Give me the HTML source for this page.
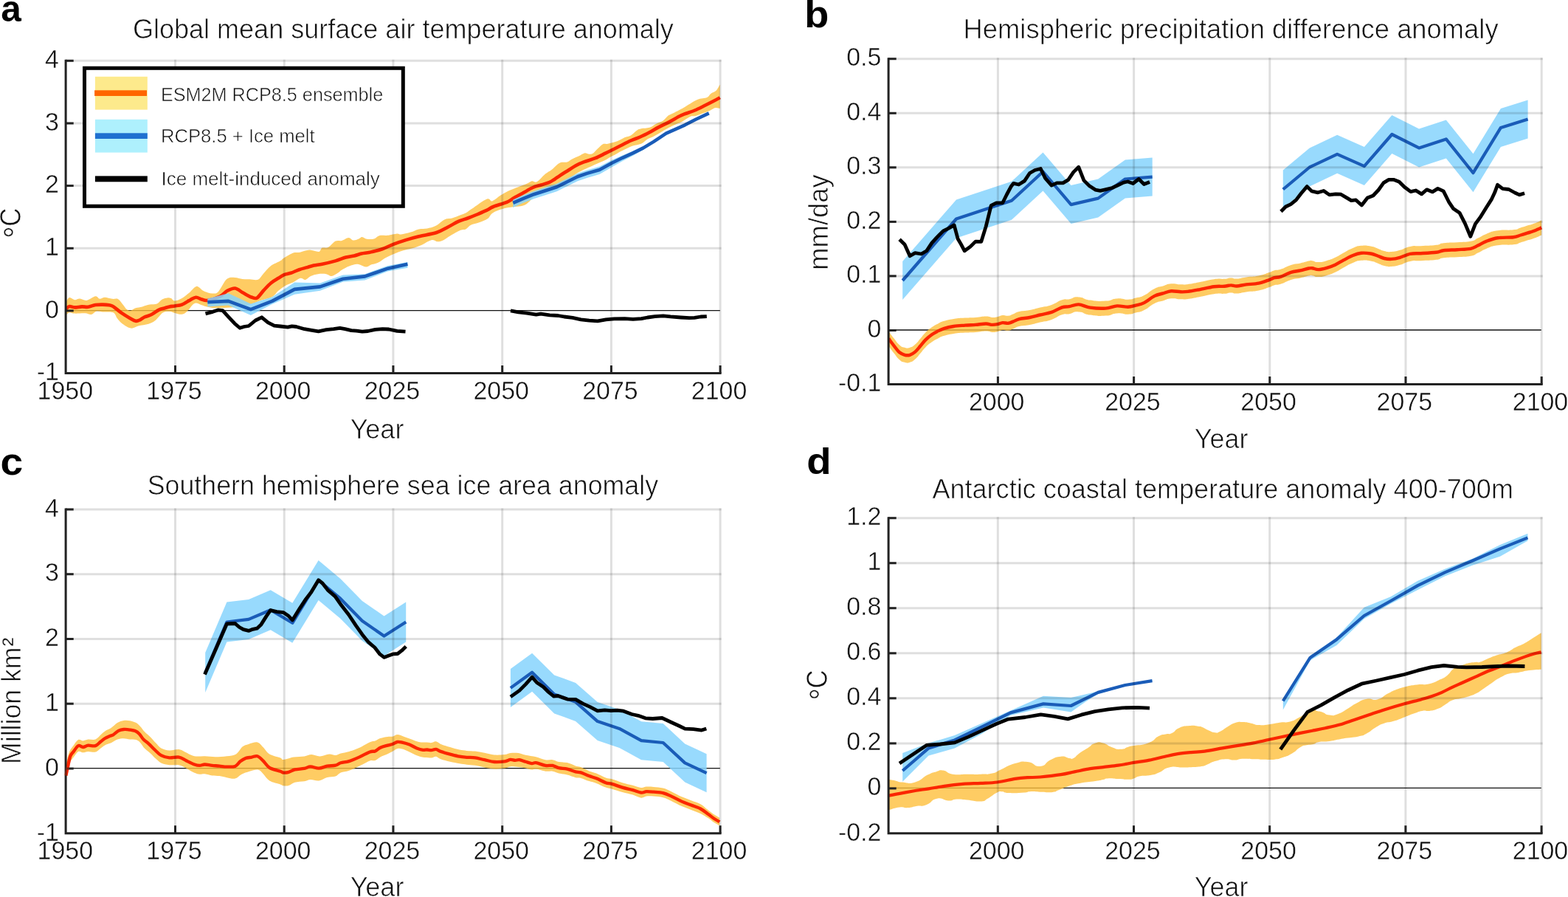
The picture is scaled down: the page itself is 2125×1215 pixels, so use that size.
<!DOCTYPE html>
<html lang="en"><head><meta charset="utf-8"><title>Figure</title>
<style>
html,body{margin:0;padding:0;background:#fff;}
body{width:2125px;height:1215px;overflow:hidden;}
svg{display:block;font-family:"Liberation Sans",sans-serif;}
</style></head><body>
<svg width="2125" height="1215" viewBox="0 0 2125 1215">
<rect width="2125" height="1215" fill="#fff"/>
<g id="panel-a">
<clipPath id="clipa"><rect x="88.0" y="80.0" width="889.3" height="427.3"/></clipPath>
<line x1="89.5" y1="420.6" x2="975.8" y2="420.6" stroke="#111" stroke-width="1.3"/>
<path d="M89.5,409.1C90.3,408.1 92.1,403.6 94.1,403.1C96.0,402.6 98.8,406.0 101.2,406.2C103.6,406.4 105.5,404.4 108.2,404.5C110.9,404.6 113.9,407.4 117.4,406.9C120.9,406.4 126.5,401.6 129.4,401.3C132.3,401.0 133.0,404.6 135.1,404.8C137.2,405.0 139.3,402.7 142.1,402.7C144.9,402.7 149.1,404.4 152.0,404.8C154.9,405.2 157.5,403.9 159.8,405.1C162.2,406.3 164.1,409.6 166.1,411.9C168.1,414.2 169.9,417.5 171.8,418.9C173.7,420.3 175.4,420.7 177.4,420.4C179.4,420.1 181.2,418.0 183.8,417.2C186.4,416.4 189.7,416.2 192.9,415.4C196.1,414.6 199.5,413.2 202.8,412.6C206.1,412.0 209.9,412.8 212.7,411.6C215.5,410.4 217.5,406.9 219.8,405.5C222.2,404.1 224.8,403.6 226.8,403.4C228.8,403.2 230.2,403.4 231.8,404.1C233.5,404.8 234.2,407.6 236.7,407.6C239.2,407.6 243.3,406.0 246.6,404.1C249.9,402.2 253.2,399.1 256.5,396.4C259.8,393.7 263.1,388.4 266.1,387.9C269.2,387.4 272.2,392.1 274.8,393.5C277.4,394.9 279.5,395.7 281.9,396.4C284.2,397.1 286.5,397.8 288.9,397.5C291.2,397.2 292.9,398.1 296.0,394.9C299.1,391.6 303.5,381.2 307.3,378.0C311.1,374.8 315.1,375.9 318.6,375.9C322.1,375.9 325.2,377.6 328.5,378.0C331.8,378.4 334.9,378.2 338.4,378.3C341.9,378.4 346.6,379.9 349.6,378.7C352.7,377.5 353.9,373.9 356.7,370.9C359.5,367.8 362.7,363.3 366.6,360.4C370.5,357.5 377.1,355.1 380.0,353.3C382.9,351.6 381.3,351.6 384.1,349.9C386.9,348.1 393.0,344.2 396.8,342.8C400.6,341.4 402.9,342.4 406.7,341.7C410.5,341.0 415.2,338.7 419.4,338.6C423.6,338.5 429.3,341.5 432.1,341.0C434.9,340.5 434.3,336.8 436.4,335.8C438.5,334.8 441.8,336.6 444.8,335.1C447.9,333.6 451.6,328.1 454.7,326.6C457.8,325.1 460.2,326.7 463.2,325.9C466.1,325.1 469.8,322.0 472.4,321.9C475.0,321.8 476.5,325.2 478.7,325.5C480.9,325.8 483.8,324.6 485.8,323.8C487.8,323.0 488.8,320.9 490.7,320.9C492.6,320.9 494.4,323.4 497.1,323.8C499.8,324.2 504.1,324.3 506.9,323.5C509.7,322.7 510.9,320.0 514.0,319.2C517.1,318.4 521.3,319.3 525.3,318.8C529.3,318.3 535.0,316.6 538.0,316.4C541.0,316.2 540.5,317.7 543.6,317.4C546.7,317.1 552.4,315.8 556.4,314.6C560.4,313.4 563.9,311.3 567.6,310.4C571.4,309.5 575.1,310.1 578.9,309.4C582.7,308.7 586.2,308.1 590.2,306.1C594.2,304.1 599.1,299.0 602.9,297.2C606.7,295.4 609.3,296.5 612.8,295.5C616.3,294.5 621.0,292.5 624.1,291.3C627.2,290.1 628.6,289.9 631.2,288.5C633.8,287.1 634.8,286.0 639.6,282.8C644.4,279.6 655.4,271.2 660.0,269.5C664.6,267.8 664.0,273.2 667.1,272.4C670.2,271.6 674.9,266.9 678.4,264.6C681.9,262.4 684.2,260.8 688.2,258.9C692.2,257.0 698.2,254.9 702.4,253.3C706.6,251.7 710.5,250.4 713.6,249.1C716.7,247.8 718.3,245.7 720.7,245.2C723.1,244.7 724.7,247.8 727.8,246.2C730.9,244.6 735.8,238.3 739.1,235.6C742.4,232.9 744.7,232.2 747.5,230.0C750.3,227.8 753.6,223.9 756.0,222.2C758.4,220.5 759.5,220.3 761.6,219.8C763.7,219.3 766.3,220.2 768.7,219.4C771.1,218.6 773.2,216.5 775.8,215.2C778.4,213.9 781.5,212.9 784.2,211.6C786.9,210.3 789.6,207.9 792.0,207.4C794.4,206.9 796.4,208.8 798.4,208.8C800.4,208.8 802.1,208.6 804.0,207.4C805.9,206.2 807.5,203.8 809.6,201.8C811.7,199.8 814.3,196.6 816.7,195.4C819.1,194.2 820.5,195.4 823.8,194.7C827.1,194.0 832.7,192.6 836.5,191.2C840.3,189.8 843.4,187.5 846.4,186.2C849.4,184.9 852.0,185.0 854.8,183.4C857.6,181.8 860.9,177.9 863.3,176.4C865.6,174.9 866.1,174.8 868.9,174.2C871.7,173.6 876.9,173.9 880.2,172.8C883.5,171.8 885.6,169.4 888.7,167.9C891.8,166.4 895.8,165.5 898.6,163.6C901.4,161.7 903.0,158.5 905.6,156.6C908.2,154.7 911.3,153.8 914.1,152.4C916.9,151.0 919.1,150.1 922.6,148.1C926.1,146.1 931.5,142.6 935.3,140.4C939.1,138.2 941.8,136.1 945.6,134.7C949.4,133.3 955.2,133.4 958.1,132.1C961.0,130.8 961.1,128.5 963.2,126.9C965.3,125.4 968.4,124.9 970.5,122.8C972.6,120.7 974.8,115.9 975.7,114.5L975.7,147.1C974.7,146.9 971.8,145.7 969.5,146.1C967.2,146.5 965.3,148.4 962.2,149.7C959.1,151.0 954.1,152.7 950.8,153.9C947.5,155.1 945.1,156.3 942.5,157.0C939.9,157.7 938.4,156.7 935.3,158.0C932.2,159.3 927.5,163.2 924.0,165.1C920.5,167.0 918.1,167.4 914.1,169.3C910.1,171.2 904.7,173.8 900.0,176.4C895.3,179.0 889.7,182.8 885.9,184.8C882.1,186.8 880.2,186.8 877.4,188.4C874.6,190.1 872.2,193.2 868.9,194.7C865.6,196.2 861.8,196.0 857.6,197.5C853.4,199.0 848.2,201.6 843.5,203.9C838.8,206.2 833.4,209.4 829.4,211.6C825.4,213.8 822.8,215.7 819.5,217.3C816.2,219.0 813.8,219.6 809.6,221.5C805.4,223.4 798.8,226.4 794.1,228.6C789.4,230.8 784.9,232.8 781.4,234.9C777.9,237.0 776.7,238.9 772.9,241.3C769.1,243.7 763.5,246.8 758.8,249.1C754.1,251.4 749.9,253.2 744.7,255.4C739.5,257.6 732.5,259.4 727.8,262.5C723.1,265.6 719.8,271.1 716.5,273.8C713.2,276.5 713.0,277.4 708.0,278.7C703.0,280.0 693.4,280.0 686.8,281.5C680.2,283.0 672.8,285.4 668.5,287.9C664.2,290.3 664.0,294.0 660.8,296.2C657.6,298.4 653.3,299.8 649.5,301.2C645.7,302.6 641.2,303.2 638.2,304.7C635.2,306.2 633.6,309.2 631.2,310.4C628.9,311.6 627.6,310.3 624.1,311.8C620.6,313.3 613.8,317.3 610.0,319.5C606.2,321.7 604.3,323.6 601.5,324.9C598.7,326.2 595.9,327.2 593.1,327.3C590.3,327.4 588.4,324.4 584.6,325.2C580.8,326.0 575.0,330.3 570.5,332.2C566.0,334.1 561.8,335.3 557.8,336.5C553.8,337.7 550.6,338.0 546.5,339.3C542.4,340.6 537.1,342.6 533.1,344.2C529.1,345.8 525.9,347.3 522.5,349.2C519.1,351.1 516.1,354.1 512.8,355.6C509.5,357.2 505.7,357.5 502.9,358.5C500.1,359.5 498.9,361.7 495.9,361.6C492.8,361.5 488.4,358.0 484.6,357.8C480.8,357.6 476.8,359.3 473.3,360.6C469.8,361.9 466.0,364.0 463.4,365.5C460.8,367.0 460.1,368.4 457.8,369.8C455.5,371.2 451.9,373.8 449.3,374.0C446.7,374.2 445.3,371.7 442.2,371.2C439.1,370.7 434.4,370.7 430.9,371.2C427.4,371.7 423.9,372.7 421.1,374.0C418.3,375.3 416.4,378.4 414.0,378.9C411.6,379.4 409.7,376.2 406.9,376.8C404.1,377.4 400.4,380.9 397.1,382.5C393.8,384.1 390.5,384.8 387.2,386.7C383.9,388.6 380.4,391.2 377.3,393.8C374.2,396.4 372.6,400.1 368.8,402.2C365.0,404.3 359.4,404.9 354.7,406.5C350.0,408.1 345.3,410.7 340.6,412.1C335.9,413.5 331.2,414.2 326.5,414.9C321.8,415.6 318.3,416.0 312.4,416.4C306.5,416.8 296.5,417.3 291.2,417.1C285.9,416.9 283.5,416.0 280.5,415.4C277.5,414.8 275.9,414.1 273.4,413.3C270.9,412.5 267.7,410.5 265.6,410.5C263.5,410.5 262.7,411.4 260.7,413.3C258.7,415.2 255.9,419.7 253.6,421.8C251.2,423.9 249.4,425.4 246.6,425.7C243.8,426.0 239.5,424.5 236.7,423.9C233.9,423.2 232.2,421.9 229.6,421.8C227.0,421.7 223.5,422.0 221.2,423.2C218.8,424.4 217.4,426.9 215.5,428.8C213.6,430.7 212.2,432.9 209.9,434.5C207.6,436.1 205.2,437.5 201.4,438.7C197.6,439.9 191.3,440.5 187.3,441.5C183.3,442.5 180.9,445.1 177.4,444.6C173.9,444.1 169.2,440.9 166.1,438.7C163.0,436.5 161.2,434.2 159.1,431.6C157.0,429.0 156.7,424.7 153.4,423.2C150.1,421.7 143.1,422.8 139.3,422.5C135.5,422.2 133.4,420.9 130.8,421.5C128.2,422.1 126.4,425.5 123.8,426.0C121.2,426.5 119.1,424.5 115.3,424.3C111.5,424.1 104.7,424.8 101.2,424.6C97.7,424.4 96.0,422.9 94.1,423.2C92.1,423.5 90.3,426.1 89.5,426.7Z" fill="#febf3c" fill-opacity="0.8" clip-path="url(#clipa)"/>
<path d="M89.5,418.2C90.3,417.7 92.1,415.4 94.1,415.1C96.0,414.8 98.4,416.3 101.2,416.4C104.0,416.4 108.0,415.5 111.1,415.4C114.1,415.3 116.5,416.2 119.5,415.8C122.5,415.4 126.1,413.5 129.4,413.0C132.7,412.5 136.2,412.6 139.3,412.6C142.4,412.7 145.5,412.9 147.8,413.3C150.2,413.7 150.6,413.3 153.4,415.1C156.2,416.9 160.9,421.3 164.7,423.9C168.5,426.5 172.8,429.1 176.0,430.9C179.2,432.7 181.5,434.4 183.8,434.8C186.2,435.2 188.1,434.0 190.1,433.1C192.1,432.2 193.9,430.4 195.8,429.5C197.7,428.6 199.5,428.5 201.4,427.7C203.3,426.9 204.8,426.2 207.1,424.9C209.4,423.5 212.9,420.8 215.5,419.6C218.1,418.4 220.2,418.2 222.6,417.5C224.9,416.8 227.2,415.9 229.6,415.4C231.9,414.9 233.9,414.9 236.7,414.4C239.5,413.9 243.1,414.0 246.6,412.6C250.1,411.2 254.7,407.9 257.9,406.2C261.1,404.5 263.0,402.8 265.6,402.7C268.2,402.6 270.8,404.8 273.4,405.5C276.0,406.2 277.1,407.6 281.2,406.9C285.3,406.2 293.7,403.7 298.2,401.5C302.7,399.3 304.7,395.6 308.1,393.8C311.5,392.0 315.2,390.0 318.7,390.5C322.2,391.0 325.6,394.6 329.3,396.6C333.0,398.6 337.4,401.4 340.6,402.5C343.8,403.6 345.6,405.0 348.4,403.4C351.2,401.8 354.3,396.5 357.5,393.1C360.7,389.7 364.1,385.9 367.4,383.2C370.7,380.5 374.4,378.6 377.3,376.8C380.2,375.0 381.8,373.5 384.6,372.3C387.4,371.1 390.7,371.0 394.2,369.8C397.7,368.6 402.0,366.4 405.5,365.2C409.0,364.0 412.1,363.3 415.4,362.4C418.7,361.5 421.8,360.4 425.3,359.6C428.8,358.8 431.7,358.8 436.6,357.8C441.5,356.8 449.3,354.9 454.7,353.4C460.1,351.8 464.6,349.7 468.8,348.5C473.0,347.3 476.6,347.2 480.1,346.4C483.6,345.6 486.5,344.3 490.0,343.5C493.5,342.7 496.6,342.8 501.3,341.7C506.0,340.6 512.9,339.0 518.2,337.2C523.5,335.4 527.7,332.9 533.1,330.8C538.5,328.8 545.0,326.7 550.7,324.9C556.5,323.1 560.8,321.8 567.6,320.2C574.4,318.6 585.0,317.1 591.6,315.0C598.2,312.9 602.2,310.0 607.2,307.5C612.2,305.0 616.8,301.8 621.3,299.8C625.8,297.8 630.0,297.0 634.0,295.5C638.0,294.0 641.1,292.8 645.3,291.0C649.5,289.2 655.5,286.7 659.4,284.9C663.3,283.1 663.9,281.9 668.5,280.0C673.1,278.1 682.1,275.8 686.8,273.8C691.5,271.8 692.9,270.2 696.7,268.1C700.5,266.0 705.2,263.5 709.4,261.1C713.6,258.8 718.1,255.8 722.1,254.0C726.1,252.2 729.6,251.7 733.4,250.5C737.2,249.3 741.6,248.2 744.7,246.9C747.8,245.6 749.4,244.2 751.8,242.7C754.1,241.2 755.8,239.8 758.8,237.8C761.8,235.8 766.6,232.9 770.1,230.7C773.6,228.5 776.5,226.3 780.0,224.4C783.5,222.5 786.8,221.1 791.3,219.4C795.8,217.7 801.9,216.2 806.8,214.2C811.7,212.2 817.1,209.2 820.9,207.4C824.7,205.6 826.1,204.8 829.4,203.2C832.7,201.5 836.5,199.6 840.7,197.5C844.9,195.4 850.3,192.5 854.8,190.5C859.3,188.5 863.3,187.4 867.5,185.5C871.7,183.6 876.0,181.4 880.2,179.2C884.4,177.0 888.4,174.4 892.9,172.1C897.4,169.8 902.4,167.6 907.1,165.1C911.8,162.6 917.9,159.0 921.2,157.3C924.5,155.6 923.6,156.0 927.0,154.7C930.4,153.4 936.7,151.5 941.5,149.5C946.3,147.5 951.9,144.5 956.0,142.5C960.1,140.5 963.1,139.0 966.4,137.3C969.7,135.6 974.2,133.0 975.7,132.1" fill="none" stroke="#fb2600" stroke-width="4.6" stroke-linejoin="round" stroke-linecap="butt" clip-path="url(#clipa)"/>
<polygon points="281.3,404.4 309.5,397.3 339.9,411.4 368.8,402.2 399.2,382.5 433.8,383.6 464.8,372.6 494.5,371.2 525.5,359.9 552.4,354.9 552.4,362.7 525.5,367.6 494.5,379.6 464.8,381.8 433.8,393.8 399.2,398.7 368.8,412.1 339.9,426.9 309.5,413.5 281.3,415.6" fill="#86d3fd" fill-opacity="0.85"/>
<polygon points="695.3,270.4 709.4,264.3 723.5,258.7 739.1,253.7 754.6,248.8 768.7,241.7 782.8,234.7 795.5,230.4 812.5,225.5 829.4,216.8 843.5,210.4 857.6,204.7 871.8,198.4 885.9,190.6 902.8,179.5 914.1,174.5 928.2,168.2 942.4,160.9 960.7,152.2 960.7,154.8 942.4,163.5 928.2,170.8 914.1,177.1 902.8,182.1 885.9,193.7 871.8,203.1 857.6,211.0 843.5,218.3 829.4,226.2 812.5,236.0 795.5,240.9 782.8,245.2 768.7,252.2 754.6,259.3 739.1,264.2 723.5,269.2 709.4,274.8 695.3,280.9" fill="#86d3fd" fill-opacity="0.85"/>
<polyline points="281.3,409.3 309.5,407.9 339.9,419.2 368.8,407.9 399.2,391.9 433.8,388.4 464.8,377.8 494.5,374.4 525.5,363.7 552.4,357.8" fill="none" stroke="#1a5cb8" stroke-width="4.6" stroke-linejoin="round" stroke-linecap="butt"/>
<polyline points="695.3,274.9 709.4,268.8 723.5,263.2 739.1,258.2 754.6,253.3 768.7,246.2 782.8,239.2 795.5,234.9 812.5,230.0 829.4,220.8 843.5,213.8 857.6,207.4 871.8,200.4 885.9,191.9 902.8,180.6 914.1,175.6 928.2,169.3 942.4,162.0 960.7,153.3" fill="none" stroke="#1a5cb8" stroke-width="4.6" stroke-linejoin="round" stroke-linecap="butt"/>
<polyline points="278.5,424.8 288.4,422.3 295.4,419.9 301.8,420.6 309.5,429.1 318.0,438.2 325.1,444.3 330.7,442.5 337.1,441.5 346.2,434.0 354.7,429.8 363.2,436.8 371.6,441.1 380.1,442.0 390.0,443.2 395.6,441.8 401.3,442.5 412.6,445.7 422.5,447.4 431.6,448.8 442.2,446.7 452.1,445.6 460.6,444.3 467.6,445.7 476.1,447.7 483.2,448.1 490.9,449.2 498.7,448.5 508.6,446.4 518.5,445.6 526.9,446.0 538.2,448.4 549.5,449.2" fill="none" stroke="#000" stroke-width="4.8" stroke-linejoin="round" stroke-linecap="butt"/>
<polyline points="692.0,420.8 702.6,422.9 713.9,424.1 726.6,426.2 732.9,425.1 744.9,426.9 756.2,427.5 764.7,429.0 776.0,430.4 787.3,432.8 798.6,434.2 809.9,434.9 821.2,432.8 832.5,431.8 846.6,431.7 857.9,432.4 869.2,431.7 877.6,430.0 887.5,428.6 898.8,427.9 908.7,428.9 922.8,430.0 934.1,430.7 941.2,430.3 949.6,429.0 957.8,428.6" fill="none" stroke="#000" stroke-width="4.8" stroke-linejoin="round" stroke-linecap="butt"/>
<g stroke="#000" stroke-opacity="0.127" stroke-width="3.0"><line x1="237.5" y1="80.8" x2="237.5" y2="505.3"/><line x1="385.2" y1="80.8" x2="385.2" y2="505.3"/><line x1="532.9" y1="80.8" x2="532.9" y2="505.3"/><line x1="680.7" y1="80.8" x2="680.7" y2="505.3"/><line x1="828.4" y1="80.8" x2="828.4" y2="505.3"/><line x1="976.1" y1="80.8" x2="976.1" y2="505.3"/><line x1="89.5" y1="336.3" x2="977.6" y2="336.3"/><line x1="89.5" y1="251.6" x2="977.6" y2="251.6"/><line x1="89.5" y1="167.0" x2="977.6" y2="167.0"/><line x1="89.5" y1="82.3" x2="977.6" y2="82.3"/></g>
<g stroke="#222222" stroke-width="3.0" fill="none" stroke-linecap="butt">
<path d="M89.1,80.8 V505.6 H977.6"/>
<line x1="237.5" y1="505.6" x2="237.5" y2="495.0"/>
<line x1="385.2" y1="505.6" x2="385.2" y2="495.0"/>
<line x1="532.9" y1="505.6" x2="532.9" y2="495.0"/>
<line x1="680.7" y1="505.6" x2="680.7" y2="495.0"/>
<line x1="828.4" y1="505.6" x2="828.4" y2="495.0"/>
<line x1="976.1" y1="505.6" x2="976.1" y2="495.0"/>
<line x1="89.1" y1="420.9" x2="99.7" y2="420.9"/>
<line x1="89.1" y1="336.3" x2="99.7" y2="336.3"/>
<line x1="89.1" y1="251.6" x2="99.7" y2="251.6"/>
<line x1="89.1" y1="167.0" x2="99.7" y2="167.0"/>
<line x1="89.1" y1="82.3" x2="99.7" y2="82.3"/>
</g>
<g font-size="34.8" fill="#111111" stroke="#fff" stroke-width="0.45">
<text transform="translate(88.3,540.8000000000001) scale(0.975,1)" text-anchor="middle">1950</text>
<text transform="translate(236.0,540.8000000000001) scale(0.975,1)" text-anchor="middle">1975</text>
<text transform="translate(383.7,540.8000000000001) scale(0.975,1)" text-anchor="middle">2000</text>
<text transform="translate(531.4,540.8000000000001) scale(0.975,1)" text-anchor="middle">2025</text>
<text transform="translate(679.2,540.8000000000001) scale(0.975,1)" text-anchor="middle">2050</text>
<text transform="translate(826.9,540.8000000000001) scale(0.975,1)" text-anchor="middle">2075</text>
<text transform="translate(974.6,540.8000000000001) scale(0.975,1)" text-anchor="middle">2100</text>
<text transform="translate(79.9,515.3) scale(0.975,1)" text-anchor="end">-1</text>
<text transform="translate(79.9,430.6) scale(0.975,1)" text-anchor="end">0</text>
<text transform="translate(79.9,346.0) scale(0.975,1)" text-anchor="end">1</text>
<text transform="translate(79.9,261.3) scale(0.975,1)" text-anchor="end">2</text>
<text transform="translate(79.9,176.7) scale(0.975,1)" text-anchor="end">3</text>
<text transform="translate(79.9,92.0) scale(0.975,1)" text-anchor="end">4</text>
</g>
<g id="legend">
<rect x="114.5" y="92.3" width="431.8" height="187" fill="#fff" stroke="#000" stroke-width="5"/>
<rect x="128.9" y="103.8" width="70.9" height="44.8" fill="#fdea8c"/>
<rect x="128.1" y="122.3" width="70.9" height="7.7" fill="#ff6600"/>
<rect x="128.9" y="161.8" width="70.9" height="44.8" fill="#aef0fd"/>
<rect x="128.9" y="180.3" width="70.9" height="7.7" fill="#1f70d0"/>
<rect x="128.9" y="238.4" width="70.9" height="7.9" fill="#000"/>
<g font-size="25.4" fill="#111111" stroke="#fff" stroke-width="0.55">
<text x="217.9" y="136.7" textLength="301.3" lengthAdjust="spacingAndGlyphs">ESM2M RCP8.5 ensemble</text>
<text x="217.9" y="192.6" textLength="208.8" lengthAdjust="spacingAndGlyphs">RCP8.5 + Ice melt</text>
<text x="218.5" y="251" textLength="296.3" lengthAdjust="spacingAndGlyphs">Ice melt-induced anomaly</text>
</g></g>
<text x="546.4" y="51.8" font-size="36" fill="#111111" stroke="#fff" stroke-width="0.68" text-anchor="middle" textLength="733" lengthAdjust="spacingAndGlyphs">Global mean surface air temperature anomaly</text>
<text x="511" y="593.8" font-size="36" fill="#111111" stroke="#fff" stroke-width="0.68" text-anchor="middle">Year</text>
<text transform="translate(27.4,320.2) rotate(-90) translate(-2.05,0.6) scale(0.87,1)" fill="#111111" stroke="#fff" stroke-width="0.68" font-size="40"><tspan font-size="47" dx="-0.6" dy="9.6" stroke-width="0.55">°</tspan><tspan dx="-0.4" dy="-9.6">C</tspan></text>
<text transform="translate(1.2,28.7) scale(0.98,1)" font-size="50.5" font-weight="bold" fill="#000">a</text>
</g>
<g id="panel-b">
<clipPath id="clipb"><rect x="1203.0" y="77.2" width="887.1999999999998" height="445.09999999999997"/></clipPath>
<line x1="1204.5" y1="447.0" x2="2088.7" y2="447.0" stroke="#111" stroke-width="1.3"/>
<path d="M1204.5,448.2C1204.8,448.9 1203.4,447.2 1205.6,450.4C1207.8,453.6 1207.9,453.7 1211.9,458.8C1215.9,463.9 1214.7,463.7 1219.0,467.3C1223.3,470.9 1221.9,469.8 1226.1,470.8C1230.3,471.9 1228.9,472.1 1233.1,470.8C1237.3,469.5 1236.0,470.2 1240.2,466.6C1244.4,463.0 1243.0,463.7 1247.2,458.8C1251.4,453.9 1249.6,455.0 1254.3,450.4C1259.0,445.8 1257.7,446.9 1262.8,443.3C1267.9,439.7 1266.1,440.9 1271.2,438.4C1276.3,435.8 1273.3,436.7 1279.7,434.8C1286.1,432.9 1283.9,433.3 1292.4,432.0C1300.9,430.7 1299.0,431.2 1307.9,430.6C1316.8,430.0 1313.6,430.5 1322.1,429.9C1330.6,429.3 1329.5,428.5 1336.2,428.5C1343.0,428.5 1339.9,429.7 1344.6,429.9C1349.2,430.1 1347.4,430.0 1351.7,429.2C1356.0,428.4 1354.4,427.5 1358.8,427.1C1363.2,426.7 1362.3,428.2 1366.5,427.8C1370.7,427.4 1368.4,427.3 1372.9,425.6C1377.4,423.9 1374.6,423.8 1381.4,422.1C1388.2,420.4 1387.0,421.7 1395.5,420.0C1404.0,418.3 1400.7,418.6 1409.6,416.5C1418.5,414.4 1416.2,416.0 1425.1,412.9C1434.0,409.8 1432.0,408.6 1439.2,406.3C1446.4,404.0 1442.3,406.4 1449.1,405.2C1455.9,404.0 1453.3,402.0 1461.8,402.4C1470.3,402.8 1466.4,405.0 1477.4,406.6C1488.4,408.2 1487.5,408.3 1498.4,407.6C1509.4,406.9 1504.8,404.9 1513.9,404.4C1523.0,403.9 1521.1,406.0 1528.7,405.8C1536.3,405.6 1532.7,405.3 1539.3,403.6C1545.9,401.9 1543.0,403.9 1550.6,400.1C1558.2,396.3 1557.1,394.7 1564.7,390.9C1572.3,387.1 1569.2,389.4 1576.0,387.4C1582.8,385.4 1580.1,384.9 1587.3,384.3C1594.5,383.7 1593.2,385.1 1600.0,385.3C1606.8,385.5 1602.7,385.7 1609.9,384.9C1617.1,384.1 1613.4,384.5 1624.0,382.5C1634.6,380.5 1634.6,379.6 1645.2,378.2C1655.8,376.8 1652.5,378.3 1659.3,377.8C1666.1,377.3 1662.7,376.5 1667.8,376.4C1672.9,376.3 1669.9,377.8 1676.2,377.5C1682.5,377.2 1680.0,376.6 1688.9,375.4C1697.8,374.2 1696.6,375.5 1705.9,373.6C1715.2,371.7 1713.6,371.3 1720.0,369.1C1726.4,366.9 1722.4,367.5 1727.1,366.2C1731.8,364.9 1728.8,367.0 1735.5,364.8C1742.2,362.6 1741.5,361.4 1749.6,358.9C1757.7,356.4 1755.2,358.0 1762.4,356.4C1769.6,354.8 1768.8,354.5 1773.6,353.5C1778.4,352.5 1774.5,352.7 1778.5,353.2C1782.5,353.7 1781.0,355.2 1786.9,355.1C1792.8,355.0 1791.4,354.8 1798.2,352.9C1805.0,351.0 1802.7,351.8 1809.5,348.7C1816.3,345.6 1813.6,346.2 1820.8,342.4C1828.0,338.6 1826.3,338.9 1833.5,336.0C1840.7,333.1 1837.6,333.6 1844.8,332.8C1852.0,332.1 1850.7,332.3 1857.5,333.5C1864.3,334.7 1861.9,334.8 1867.4,336.7C1872.9,338.6 1870.4,338.7 1875.9,340.0C1881.4,341.3 1879.4,341.3 1885.8,340.9C1892.2,340.5 1889.5,340.9 1897.1,338.8C1904.7,336.7 1902.7,335.6 1911.2,333.9C1919.7,332.2 1914.7,333.8 1925.3,333.2C1935.9,332.6 1937.2,333.0 1946.5,331.8C1955.8,330.6 1947.9,330.3 1956.4,329.2C1964.9,328.1 1963.7,328.9 1974.7,328.2C1985.7,327.5 1984.6,328.5 1993.1,326.8C2001.6,325.1 1996.6,325.6 2002.9,322.6C2009.2,319.6 2006.1,320.0 2014.2,316.9C2022.3,313.8 2018.8,314.0 2029.8,312.3C2040.8,310.6 2041.6,312.4 2050.9,311.3C2060.2,310.2 2055.1,310.2 2060.8,308.5C2066.5,306.8 2065.0,307.2 2070.0,305.6C2075.0,304.0 2071.8,305.5 2077.6,303.3C2083.4,301.1 2085.7,299.9 2089.2,298.4L2089.2,318.4C2085.7,319.9 2083.4,321.1 2077.6,323.3C2071.8,325.5 2075.0,324.0 2070.0,325.6C2065.0,327.2 2066.5,326.8 2060.8,328.5C2055.1,330.2 2060.2,330.2 2050.9,331.3C2041.6,332.4 2040.8,330.6 2029.8,332.3C2018.8,334.0 2022.3,333.8 2014.2,336.9C2006.1,340.0 2009.2,339.6 2002.9,342.6C1996.6,345.6 2001.6,345.1 1993.1,346.8C1984.6,348.5 1985.7,347.5 1974.7,348.2C1963.7,348.9 1964.9,348.1 1956.4,349.2C1947.9,350.3 1955.8,350.6 1946.5,351.8C1937.2,353.0 1935.9,352.6 1925.3,353.2C1914.7,353.8 1919.7,352.2 1911.2,353.9C1902.7,355.6 1904.7,356.7 1897.1,358.8C1889.5,360.9 1892.2,360.5 1885.8,360.9C1879.4,361.3 1881.4,361.3 1875.9,360.0C1870.4,358.7 1872.9,358.6 1867.4,356.7C1861.9,354.8 1864.3,354.7 1857.5,353.5C1850.7,352.3 1852.0,352.1 1844.8,352.8C1837.6,353.6 1840.7,353.1 1833.5,356.0C1826.3,358.9 1828.0,358.6 1820.8,362.4C1813.6,366.2 1816.3,365.6 1809.5,368.7C1802.7,371.8 1805.0,371.0 1798.2,372.9C1791.4,374.8 1792.8,375.0 1786.9,375.1C1781.0,375.2 1782.5,373.7 1778.5,373.2C1774.5,372.7 1778.4,372.5 1773.6,373.5C1768.8,374.5 1769.6,374.8 1762.4,376.4C1755.2,378.0 1757.7,376.4 1749.6,378.9C1741.5,381.4 1742.2,382.6 1735.5,384.8C1728.8,387.0 1731.8,384.9 1727.1,386.2C1722.4,387.5 1726.4,386.9 1720.0,389.1C1713.6,391.3 1715.2,391.7 1705.9,393.6C1696.6,395.5 1697.8,394.2 1688.9,395.4C1680.0,396.6 1682.5,397.2 1676.2,397.5C1669.9,397.8 1672.9,396.3 1667.8,396.4C1662.7,396.5 1666.1,397.3 1659.3,397.8C1652.5,398.3 1655.8,396.8 1645.2,398.2C1634.6,399.6 1634.6,400.5 1624.0,402.5C1613.4,404.5 1617.1,404.1 1609.9,404.9C1602.7,405.7 1606.8,405.5 1600.0,405.3C1593.2,405.1 1594.5,403.7 1587.3,404.3C1580.1,404.9 1582.8,405.4 1576.0,407.4C1569.2,409.4 1572.3,407.1 1564.7,410.9C1557.1,414.7 1558.2,416.3 1550.6,420.1C1543.0,423.9 1545.9,421.9 1539.3,423.6C1532.7,425.3 1536.3,425.6 1528.7,425.8C1521.1,426.0 1523.0,423.9 1513.9,424.4C1504.8,424.9 1509.4,426.9 1498.4,427.6C1487.5,428.3 1488.4,428.2 1477.4,426.6C1466.4,425.0 1470.3,422.8 1461.8,422.4C1453.3,422.0 1455.9,424.0 1449.1,425.2C1442.3,426.4 1446.4,424.0 1439.2,426.3C1432.0,428.6 1434.0,429.8 1425.1,432.9C1416.2,436.0 1418.5,434.4 1409.6,436.5C1400.7,438.6 1404.0,438.3 1395.5,440.0C1387.0,441.7 1388.2,440.4 1381.4,442.1C1374.6,443.8 1377.4,443.9 1372.9,445.6C1368.4,447.3 1370.7,447.4 1366.5,447.8C1362.3,448.2 1363.2,446.7 1358.8,447.1C1354.4,447.5 1356.0,448.4 1351.7,449.2C1347.4,450.0 1349.2,450.1 1344.6,449.9C1339.9,449.7 1343.0,448.5 1336.2,448.5C1329.5,448.5 1330.6,449.3 1322.1,449.9C1313.6,450.5 1316.8,450.0 1307.9,450.6C1299.0,451.2 1300.9,450.7 1292.4,452.0C1283.9,453.3 1286.1,452.9 1279.7,454.8C1273.3,456.7 1276.3,455.8 1271.2,458.4C1266.1,460.9 1267.9,459.7 1262.8,463.3C1257.7,466.9 1259.0,465.8 1254.3,470.4C1249.6,475.0 1251.4,473.9 1247.2,478.8C1243.0,483.7 1244.4,483.0 1240.2,486.6C1236.0,490.2 1237.3,489.5 1233.1,490.8C1228.9,492.1 1230.3,491.9 1226.1,490.8C1221.9,489.8 1223.3,490.9 1219.0,487.3C1214.7,483.7 1215.9,483.9 1211.9,478.8C1207.9,473.7 1207.8,473.6 1205.6,470.4C1203.4,467.2 1204.8,468.9 1204.5,468.2Z" fill="#febf3c" fill-opacity="0.8" clip-path="url(#clipb)"/>
<path d="M1204.5,458.2C1204.7,458.6 1204.4,458.6 1205.6,460.4C1206.8,462.2 1209.7,466.0 1211.9,468.8C1214.1,471.6 1216.6,475.3 1219.0,477.3C1221.4,479.3 1223.8,480.2 1226.1,480.8C1228.4,481.4 1230.8,481.5 1233.1,480.8C1235.4,480.1 1237.8,478.6 1240.2,476.6C1242.6,474.6 1244.9,471.5 1247.2,468.8C1249.5,466.1 1251.7,463.0 1254.3,460.4C1256.9,457.8 1260.0,455.3 1262.8,453.3C1265.6,451.3 1268.4,449.8 1271.2,448.4C1274.0,447.0 1276.2,445.9 1279.7,444.8C1283.2,443.7 1287.7,442.7 1292.4,442.0C1297.1,441.3 1303.0,441.0 1307.9,440.6C1312.9,440.2 1317.4,440.2 1322.1,439.9C1326.8,439.5 1332.5,438.5 1336.2,438.5C1340.0,438.5 1342.0,439.8 1344.6,439.9C1347.2,440.0 1349.3,439.7 1351.7,439.2C1354.1,438.7 1356.3,437.3 1358.8,437.1C1361.3,436.9 1364.2,438.1 1366.5,437.8C1368.8,437.6 1370.4,436.6 1372.9,435.6C1375.4,434.7 1377.6,433.0 1381.4,432.1C1385.2,431.2 1390.8,430.9 1395.5,430.0C1400.2,429.1 1404.7,427.7 1409.6,426.5C1414.5,425.3 1420.2,424.6 1425.1,422.9C1430.0,421.2 1435.2,417.6 1439.2,416.3C1443.2,415.0 1445.3,415.9 1449.1,415.2C1452.9,414.5 1457.1,412.2 1461.8,412.4C1466.5,412.6 1471.3,415.7 1477.4,416.6C1483.5,417.5 1492.3,418.0 1498.4,417.6C1504.5,417.2 1508.9,414.7 1513.9,414.4C1519.0,414.1 1524.5,415.9 1528.7,415.8C1532.9,415.7 1535.7,414.6 1539.3,413.6C1542.9,412.7 1546.4,412.2 1550.6,410.1C1554.8,408.0 1560.5,403.0 1564.7,400.9C1568.9,398.8 1572.2,398.5 1576.0,397.4C1579.8,396.3 1583.3,394.6 1587.3,394.3C1591.3,394.0 1596.2,395.2 1600.0,395.3C1603.8,395.4 1605.9,395.4 1609.9,394.9C1613.9,394.4 1618.1,393.6 1624.0,392.5C1629.9,391.4 1639.3,389.0 1645.2,388.2C1651.1,387.4 1655.5,388.1 1659.3,387.8C1663.1,387.5 1665.0,386.4 1667.8,386.4C1670.6,386.3 1672.7,387.7 1676.2,387.5C1679.7,387.3 1684.0,386.0 1688.9,385.4C1693.9,384.8 1700.7,384.7 1705.9,383.6C1711.1,382.6 1716.5,380.3 1720.0,379.1C1723.5,377.9 1724.5,376.9 1727.1,376.2C1729.7,375.5 1731.8,376.0 1735.5,374.8C1739.2,373.6 1745.1,370.3 1749.6,368.9C1754.1,367.5 1758.4,367.3 1762.4,366.4C1766.4,365.5 1770.9,364.0 1773.6,363.5C1776.3,363.0 1776.3,362.9 1778.5,363.2C1780.7,363.5 1783.6,365.2 1786.9,365.1C1790.2,365.1 1794.4,364.0 1798.2,362.9C1802.0,361.8 1805.7,360.4 1809.5,358.7C1813.3,356.9 1816.8,354.5 1820.8,352.4C1824.8,350.3 1829.5,347.6 1833.5,346.0C1837.5,344.4 1840.8,343.2 1844.8,342.8C1848.8,342.4 1853.7,342.9 1857.5,343.5C1861.3,344.1 1864.3,345.6 1867.4,346.7C1870.5,347.8 1872.8,349.3 1875.9,350.0C1879.0,350.7 1882.3,351.1 1885.8,350.9C1889.3,350.7 1892.9,350.0 1897.1,348.8C1901.3,347.6 1906.5,344.8 1911.2,343.9C1915.9,343.0 1919.4,343.5 1925.3,343.2C1931.2,342.9 1941.3,342.5 1946.5,341.8C1951.7,341.1 1951.7,339.8 1956.4,339.2C1961.1,338.6 1968.6,338.6 1974.7,338.2C1980.8,337.8 1988.4,337.7 1993.1,336.8C1997.8,335.9 1999.4,334.2 2002.9,332.6C2006.4,331.0 2009.7,328.6 2014.2,326.9C2018.7,325.2 2023.7,323.2 2029.8,322.3C2035.9,321.4 2045.7,321.9 2050.9,321.3C2056.1,320.7 2057.6,319.4 2060.8,318.5C2064.0,317.6 2067.2,316.5 2070.0,315.6C2072.8,314.7 2074.4,314.5 2077.6,313.3C2080.8,312.1 2087.3,309.2 2089.2,308.4" fill="none" stroke="#fb2600" stroke-width="4.4" stroke-linejoin="round" stroke-linecap="butt" clip-path="url(#clipb)"/>
<polygon points="1223.2,354.0 1296.0,270.5 1371.0,245.8 1413.5,206.5 1451.5,251.1 1488.2,242.6 1524.9,216.5 1561.7,213.6 1561.7,265.6 1524.9,268.5 1488.2,294.6 1451.5,303.1 1413.5,258.5 1371.0,297.8 1296.0,322.5 1223.2,406.0" fill="#86d3fd" fill-opacity="0.85"/>
<polygon points="1738.8,230.5 1774.8,200.5 1812.2,182.8 1848.9,199.1 1886.4,156.0 1923.1,174.4 1959.8,162.4 1996.5,208.2 2033.9,146.9 2070.6,135.4 2070.6,187.4 2033.9,198.9 1996.5,260.2 1959.8,214.4 1923.1,226.4 1886.4,208.0 1848.9,251.1 1812.2,234.8 1774.8,252.5 1738.8,282.5" fill="#86d3fd" fill-opacity="0.85"/>
<polyline points="1223.2,380.0 1296.0,296.5 1371.0,271.8 1413.5,232.5 1451.5,277.1 1488.2,268.6 1524.9,242.5 1561.7,239.6" fill="none" stroke="#1a5cb8" stroke-width="4.2" stroke-linejoin="round" stroke-linecap="butt"/>
<polyline points="1738.8,256.5 1774.8,226.5 1812.2,208.8 1848.9,225.1 1886.4,182.0 1923.1,200.4 1959.8,188.4 1996.5,234.2 2033.9,172.9 2070.6,161.4" fill="none" stroke="#1a5cb8" stroke-width="4.2" stroke-linejoin="round" stroke-linecap="butt"/>
<polyline points="1219.0,324.2 1226.1,331.3 1233.1,346.8 1240.2,342.6 1248.6,344.0 1255.7,339.8 1262.8,329.2 1269.8,321.4 1278.3,312.9 1285.4,309.4 1293.1,304.9 1298.1,323.5 1302.3,330.6 1307.2,339.8 1315.0,334.1 1322.1,327.1 1329.8,327.3 1336.2,306.6 1343.2,278.4 1350.3,274.8 1358.8,274.8 1364.4,263.5 1370.1,252.8 1373.6,248.3 1380.6,250.0 1388.4,245.1 1395.5,234.5 1402.5,230.5 1410.3,228.5 1416.6,241.5 1425.1,251.1 1432.2,247.9 1440.6,247.9 1447.7,243.6 1454.8,233.1 1461.8,226.3 1468.9,244.4 1475.9,251.4 1484.4,257.1 1491.1,258.4 1498.8,256.6 1507.3,254.5 1515.8,250.5 1522.8,247.1 1528.5,246.0 1535.5,248.5 1543.3,242.5 1550.4,249.5 1558.1,246.4" fill="none" stroke="#000" stroke-width="4.8" stroke-linejoin="round" stroke-linecap="butt"/>
<polyline points="1736.0,286.5 1742.4,280.0 1749.4,276.6 1756.5,270.9 1763.5,261.8 1771.3,252.6 1777.6,258.9 1786.1,260.8 1793.9,258.5 1801.6,263.9 1810.1,262.8 1817.2,263.2 1824.2,267.4 1831.3,271.6 1837.6,270.9 1845.4,278.0 1853.2,268.1 1860.9,265.0 1868.0,257.5 1875.1,247.6 1882.1,243.4 1889.2,243.4 1896.2,246.2 1903.3,253.3 1911.8,259.6 1918.8,258.0 1926.6,262.9 1933.6,256.8 1941.4,259.9 1948.5,255.4 1956.2,258.9 1963.4,273.3 1969.8,282.8 1978.0,288.2 1985.4,302.6 1992.8,320.3 1999.4,303.4 2006.0,294.4 2014.2,281.2 2021.6,269.6 2025.8,260.6 2029.5,250.3 2036.5,255.6 2044.7,256.5 2052.9,261.0 2059.1,263.9 2066.1,261.8" fill="none" stroke="#000" stroke-width="4.8" stroke-linejoin="round" stroke-linecap="butt"/>
<g stroke="#000" stroke-opacity="0.127" stroke-width="3.0"><line x1="1352.4" y1="78.2" x2="1352.4" y2="520.3"/><line x1="1536.6" y1="78.2" x2="1536.6" y2="520.3"/><line x1="1720.8" y1="78.2" x2="1720.8" y2="520.3"/><line x1="1905.0" y1="78.2" x2="1905.0" y2="520.3"/><line x1="2089.2" y1="78.2" x2="2089.2" y2="520.3"/><line x1="1204.5" y1="373.9" x2="2090.7" y2="373.9"/><line x1="1204.5" y1="300.4" x2="2090.7" y2="300.4"/><line x1="1204.5" y1="226.8" x2="2090.7" y2="226.8"/><line x1="1204.5" y1="153.3" x2="2090.7" y2="153.3"/><line x1="1204.5" y1="79.7" x2="2090.7" y2="79.7"/></g>
<g stroke="#222222" stroke-width="3.0" fill="none" stroke-linecap="butt">
<path d="M1204.1,78.2 V520.6 H2090.7"/>
<line x1="1352.4" y1="520.6" x2="1352.4" y2="510.0"/>
<line x1="1536.6" y1="520.6" x2="1536.6" y2="510.0"/>
<line x1="1720.8" y1="520.6" x2="1720.8" y2="510.0"/>
<line x1="1905.0" y1="520.6" x2="1905.0" y2="510.0"/>
<line x1="2089.2" y1="520.6" x2="2089.2" y2="510.0"/>
<line x1="1204.1" y1="447.5" x2="1214.7" y2="447.5"/>
<line x1="1204.1" y1="373.9" x2="1214.7" y2="373.9"/>
<line x1="1204.1" y1="300.4" x2="1214.7" y2="300.4"/>
<line x1="1204.1" y1="226.8" x2="1214.7" y2="226.8"/>
<line x1="1204.1" y1="153.3" x2="1214.7" y2="153.3"/>
<line x1="1204.1" y1="79.7" x2="1214.7" y2="79.7"/>
</g>
<g font-size="34.8" fill="#111111" stroke="#fff" stroke-width="0.45">
<text transform="translate(1350.7,555.6) scale(0.975,1)" text-anchor="middle">2000</text>
<text transform="translate(1534.9,555.6) scale(0.975,1)" text-anchor="middle">2025</text>
<text transform="translate(1719.1,555.6) scale(0.975,1)" text-anchor="middle">2050</text>
<text transform="translate(1903.3,555.6) scale(0.975,1)" text-anchor="middle">2075</text>
<text transform="translate(2087.5,555.6) scale(0.975,1)" text-anchor="middle">2100</text>
<text transform="translate(1194.4,530.3) scale(0.975,1)" text-anchor="end">-0.1</text>
<text transform="translate(1194.4,457.0) scale(0.975,1)" text-anchor="end">0</text>
<text transform="translate(1194.4,383.4) scale(0.975,1)" text-anchor="end">0.1</text>
<text transform="translate(1194.4,309.9) scale(0.975,1)" text-anchor="end">0.2</text>
<text transform="translate(1194.4,236.3) scale(0.975,1)" text-anchor="end">0.3</text>
<text transform="translate(1194.4,162.8) scale(0.975,1)" text-anchor="end">0.4</text>
<text transform="translate(1194.4,89.2) scale(0.975,1)" text-anchor="end">0.5</text>
</g>
<text x="1668.1" y="52.2" font-size="36" fill="#111111" stroke="#fff" stroke-width="0.68" text-anchor="middle" textLength="725" lengthAdjust="spacingAndGlyphs">Hemispheric precipitation difference anomaly</text>
<text x="1655.2" y="606.6" font-size="36" fill="#111111" stroke="#fff" stroke-width="0.68" text-anchor="middle">Year</text>
<text transform="translate(1122,301) rotate(-90)" font-size="36" fill="#111111" stroke="#fff" stroke-width="0.68" text-anchor="middle" textLength="129.5" lengthAdjust="spacingAndGlyphs">mm/day</text>
<text transform="translate(1090.2,36.6) scale(1.05,1)" font-size="51.5" font-weight="bold" fill="#000">b</text>
</g>
<g id="panel-c">
<clipPath id="clipc"><rect x="88.0" y="687.6" width="889.3" height="442.9"/></clipPath>
<line x1="89.5" y1="1040.6" x2="975.8" y2="1040.6" stroke="#111" stroke-width="1.3"/>
<path d="M89.5,1034.8C89.7,1034.1 89.8,1033.4 90.6,1030.6C91.4,1027.8 92.6,1021.4 94.1,1017.9C95.6,1014.4 97.8,1012.0 99.8,1009.4C101.8,1006.8 104.0,1003.1 106.1,1002.1C108.2,1001.1 110.3,1003.6 112.5,1003.5C114.7,1003.4 116.7,1001.9 119.5,1001.6C122.3,1001.3 126.6,1002.7 129.4,1001.6C132.2,1000.5 134.4,997.2 136.5,995.3C138.6,993.4 139.8,991.9 142.1,990.4C144.4,988.9 147.8,988.0 150.6,986.1C153.4,984.2 156.3,980.8 159.1,979.1C161.9,977.4 164.7,976.5 167.5,976.0C170.3,975.5 173.2,975.7 176.0,976.2C178.8,976.7 182.2,977.8 184.5,979.1C186.8,980.4 188.2,982.0 190.1,984.0C192.0,986.0 193.5,988.6 195.8,991.1C198.2,993.6 201.6,996.2 204.2,998.8C206.8,1001.4 208.9,1004.2 211.3,1006.6C213.7,1009.0 215.4,1011.8 218.4,1013.4C221.4,1015.0 225.6,1016.2 229.6,1016.5C233.6,1016.8 238.6,1014.6 242.4,1015.1C246.2,1015.6 248.7,1017.8 252.2,1019.3C255.7,1020.8 259.3,1023.4 263.5,1024.2C267.7,1025.0 272.9,1024.0 277.6,1024.2C282.3,1024.4 286.9,1025.2 291.8,1025.2C296.8,1025.2 302.6,1024.8 307.3,1024.2C312.0,1023.6 316.5,1023.5 320.0,1021.4C323.5,1019.3 325.7,1013.7 328.5,1011.5C331.3,1009.3 333.5,1009.0 336.9,1008.0C340.3,1007.0 345.6,1004.8 348.9,1005.5C352.2,1006.2 354.0,1009.6 356.7,1012.2C359.4,1014.9 361.3,1019.0 365.2,1021.4C369.1,1023.8 376.9,1025.2 380.0,1026.4C383.1,1027.7 381.1,1029.1 384.1,1028.9C387.1,1028.7 393.5,1026.2 398.2,1025.4C402.9,1024.7 408.4,1025.0 412.4,1024.4C416.4,1023.8 418.7,1021.9 422.2,1021.9C425.7,1021.9 429.5,1024.5 433.5,1024.4C437.5,1024.4 442.7,1021.8 446.2,1021.6C449.7,1021.4 452.1,1023.2 454.7,1023.0C457.3,1022.8 458.7,1021.4 461.8,1020.5C464.9,1019.6 468.9,1019.2 473.1,1017.9C477.3,1016.6 482.5,1014.8 487.2,1012.7C491.9,1010.6 497.8,1006.7 501.3,1005.2C504.8,1003.7 506.0,1004.4 508.4,1003.5C510.8,1002.6 512.6,1000.9 515.4,1000.0C518.2,999.1 522.5,998.3 525.3,997.9C528.1,997.5 530.2,998.1 532.4,997.6C534.6,997.1 536.1,995.1 538.7,995.1C541.3,995.1 544.7,996.9 547.9,997.9C551.1,998.9 554.5,1000.2 557.8,1001.4C561.1,1002.6 564.1,1004.2 567.6,1004.9C571.1,1005.6 576.1,1005.4 578.9,1005.6C581.7,1005.8 582.6,1006.3 584.6,1006.1C586.6,1005.9 588.5,1003.8 590.9,1004.2C593.2,1004.6 595.5,1007.2 598.7,1008.5C601.9,1009.8 606.0,1010.8 610.0,1012.0C614.0,1013.2 618.9,1014.7 622.7,1015.5C626.5,1016.3 629.1,1016.5 632.6,1016.9C636.1,1017.2 639.9,1017.1 643.9,1017.6C647.9,1018.1 652.2,1019.0 656.6,1019.8C661.0,1020.6 665.4,1022.2 670.0,1022.6C674.6,1023.0 680.4,1022.5 684.0,1022.1C687.6,1021.7 688.7,1020.4 691.8,1020.0C694.9,1019.6 699.0,1019.5 702.4,1020.0C705.8,1020.5 708.2,1021.9 712.2,1022.8C716.2,1023.7 721.9,1024.1 726.4,1025.2C730.9,1026.3 735.4,1028.5 739.1,1029.2C742.9,1029.9 745.9,1028.7 748.9,1029.2C751.9,1029.7 754.1,1031.3 757.4,1032.0C760.7,1032.7 764.9,1032.2 768.7,1033.1C772.5,1034.0 776.9,1036.4 780.0,1037.4C783.1,1038.4 784.0,1037.9 787.1,1039.1C790.2,1040.3 794.9,1043.0 798.4,1044.4C801.9,1045.8 804.5,1046.0 808.2,1047.5C812.0,1049.0 817.4,1052.2 820.9,1053.5C824.4,1054.8 825.6,1054.2 829.4,1055.3C833.2,1056.4 838.8,1058.8 843.5,1060.2C848.2,1061.6 853.4,1062.7 857.6,1063.8C861.8,1064.9 865.8,1066.7 868.9,1067.0C872.0,1067.3 873.2,1065.8 876.0,1065.6C878.8,1065.4 882.1,1065.6 885.9,1065.9C889.7,1066.2 894.6,1066.5 898.6,1067.6C902.6,1068.6 905.7,1070.2 909.9,1072.2C914.1,1074.2 919.5,1077.3 924.0,1079.3C928.5,1081.3 932.5,1082.5 936.7,1084.2C940.9,1085.9 945.6,1087.0 949.4,1089.2C953.2,1091.4 956.7,1095.0 959.7,1097.3C962.8,1099.6 965.1,1101.5 967.7,1103.3C970.3,1105.0 974.0,1107.0 975.2,1107.8L975.2,1118.3C974.0,1117.6 970.3,1115.8 967.7,1114.1C965.1,1112.4 962.8,1110.1 959.7,1108.1C956.7,1106.1 953.2,1103.8 949.4,1101.9C945.6,1100.0 940.9,1098.6 936.7,1096.9C932.5,1095.2 928.5,1094.0 924.0,1092.0C919.5,1090.0 914.1,1086.9 909.9,1084.9C905.7,1083.0 902.6,1081.3 898.6,1080.3C894.6,1079.2 889.7,1078.9 885.9,1078.6C882.1,1078.3 878.8,1078.2 876.0,1078.6C873.2,1078.9 872.0,1081.0 868.9,1080.7C865.8,1080.4 861.8,1077.8 857.6,1076.5C853.4,1075.2 848.2,1074.2 843.5,1072.9C838.8,1071.6 833.2,1069.8 829.4,1068.7C825.6,1067.7 824.4,1067.9 820.9,1066.6C817.4,1065.3 812.0,1062.3 808.2,1060.9C804.5,1059.5 801.9,1059.3 798.4,1058.1C794.9,1056.9 790.2,1054.7 787.1,1053.9C784.0,1053.1 783.1,1053.9 780.0,1053.2C776.9,1052.5 772.5,1050.5 768.7,1049.6C764.9,1048.6 760.7,1048.3 757.4,1047.5C754.1,1046.7 751.9,1045.2 748.9,1044.7C745.9,1044.2 742.9,1045.2 739.1,1044.7C735.4,1044.2 729.5,1041.9 726.4,1041.6C723.3,1041.2 723.1,1042.8 720.7,1042.6C718.3,1042.4 715.2,1041.1 712.2,1040.5C709.2,1039.9 705.8,1039.4 702.4,1039.1C699.0,1038.8 694.9,1038.2 691.8,1038.4C688.7,1038.6 687.6,1040.0 684.0,1040.5C680.4,1041.0 674.6,1041.8 670.0,1041.6C665.4,1041.4 661.0,1040.3 656.6,1039.5C652.2,1038.7 647.9,1037.3 643.9,1036.7C639.9,1036.1 636.1,1036.1 632.6,1035.7C629.1,1035.3 626.5,1035.0 622.7,1034.3C618.9,1033.6 614.2,1032.8 610.0,1031.8C605.8,1030.8 600.5,1029.4 597.3,1028.2C594.1,1027.0 593.0,1025.0 590.9,1024.7C588.8,1024.4 587.5,1026.2 584.6,1026.4C581.7,1026.6 576.6,1026.3 573.3,1025.8C570.0,1025.3 567.9,1024.5 564.8,1023.3C561.7,1022.1 558.2,1019.9 554.9,1018.4C551.6,1016.9 547.8,1015.2 545.1,1014.5C542.4,1013.8 540.8,1013.6 538.7,1014.1C536.6,1014.6 534.6,1016.4 532.4,1017.6C530.2,1018.8 528.1,1019.9 525.3,1021.2C522.5,1022.5 518.2,1023.9 515.4,1025.4C512.6,1026.9 510.8,1029.3 508.4,1030.1C506.0,1030.9 504.8,1029.2 501.3,1030.4C497.8,1031.6 491.9,1035.2 487.2,1037.4C482.5,1039.6 477.3,1042.3 473.1,1043.8C468.9,1045.3 464.9,1045.3 461.8,1046.6C458.7,1047.9 457.8,1050.5 454.7,1051.5C451.6,1052.5 447.2,1051.9 443.4,1052.9C439.6,1053.9 435.9,1057.0 432.1,1057.5C428.3,1058.0 424.1,1055.9 420.8,1056.0C417.5,1056.1 415.9,1057.7 412.4,1058.3C408.9,1058.9 403.1,1058.8 399.6,1059.7C396.1,1060.7 393.8,1063.2 391.2,1064.0C388.6,1064.8 386.0,1064.5 384.1,1064.2C382.2,1063.9 383.1,1063.5 380.0,1062.4C376.9,1061.3 369.1,1059.8 365.2,1057.4C361.3,1055.0 359.3,1050.7 356.7,1048.2C354.1,1045.7 352.7,1043.2 349.6,1042.6C346.6,1042.0 342.1,1043.7 338.4,1044.7C334.6,1045.8 330.4,1047.2 327.1,1048.9C323.8,1050.6 321.9,1053.9 318.6,1054.6C315.3,1055.3 310.8,1053.8 307.3,1053.2C303.8,1052.6 300.7,1051.6 297.4,1051.1C294.1,1050.6 290.8,1050.9 287.5,1050.4C284.2,1049.9 280.4,1048.5 277.6,1048.2C274.8,1047.9 273.0,1048.9 270.6,1048.7C268.2,1048.5 266.6,1048.2 263.5,1046.8C260.4,1045.4 255.7,1042.3 252.2,1040.5C248.7,1038.7 246.2,1036.9 242.4,1036.2C238.6,1035.5 233.6,1036.7 229.6,1036.2C225.6,1035.7 221.4,1034.8 218.4,1033.4C215.4,1032.0 213.7,1029.9 211.3,1027.8C208.9,1025.7 206.8,1023.1 204.2,1020.7C201.6,1018.3 198.2,1016.1 195.8,1013.6C193.5,1011.1 192.0,1007.8 190.1,1005.9C188.2,1004.0 186.8,1002.9 184.5,1002.1C182.2,1001.4 178.8,1001.7 176.0,1001.4C173.2,1001.1 170.3,1000.2 167.5,1000.2C164.7,1000.2 161.9,1000.6 159.1,1001.6C156.3,1002.6 153.4,1005.0 150.6,1006.3C147.8,1007.6 144.4,1008.2 142.1,1009.4C139.8,1010.6 138.6,1012.1 136.5,1013.6C134.4,1015.1 132.2,1017.9 129.4,1018.6C126.6,1019.3 122.3,1017.8 119.5,1017.9C116.7,1018.0 114.7,1019.3 112.5,1019.3C110.3,1019.3 108.2,1016.9 106.1,1017.9C104.0,1018.9 101.8,1022.9 99.8,1025.6C97.8,1028.3 95.6,1030.4 94.1,1034.1C92.6,1037.8 91.4,1044.3 90.6,1047.5C89.8,1050.7 89.7,1052.2 89.5,1053.2Z" fill="#febf3c" fill-opacity="0.8" clip-path="url(#clipc)"/>
<path d="M89.3,1050.5C89.7,1048.8 90.6,1044.3 91.6,1040.0C92.6,1035.7 93.8,1028.2 95.2,1024.5C96.6,1020.8 98.0,1020.3 99.8,1017.9C101.6,1015.5 104.0,1011.1 106.1,1010.1C108.2,1009.1 110.3,1012.1 112.5,1012.0C114.7,1011.9 116.7,1010.0 119.5,1009.7C122.3,1009.4 126.6,1011.0 129.4,1010.1C132.2,1009.2 134.4,1006.1 136.5,1004.5C138.6,1002.9 140.2,1001.4 142.1,1000.2C144.0,999.0 145.9,998.2 147.8,997.4C149.7,996.6 151.3,996.5 153.4,995.3C155.5,994.0 158.2,991.1 160.5,989.9C162.8,988.7 164.9,988.2 167.5,988.0C170.1,987.8 173.4,988.1 176.0,988.5C178.6,988.9 181.0,989.2 183.1,990.1C185.2,991.0 186.8,992.0 188.7,993.9C190.6,995.8 192.3,999.4 194.4,1001.6C196.5,1003.8 198.8,1004.9 201.4,1007.3C204.0,1009.7 207.1,1013.1 209.9,1015.8C212.7,1018.4 215.1,1021.4 218.4,1023.2C221.7,1025.0 225.6,1026.0 229.6,1026.4C233.6,1026.8 238.6,1025.0 242.4,1025.6C246.2,1026.2 248.7,1028.5 252.2,1030.2C255.7,1031.9 260.4,1034.4 263.5,1035.5C266.6,1036.6 268.2,1036.9 270.6,1036.9C273.0,1036.9 274.8,1035.5 277.6,1035.5C280.4,1035.5 284.2,1036.6 287.5,1036.9C290.8,1037.2 294.1,1037.3 297.4,1037.6C300.7,1037.9 303.8,1038.5 307.3,1038.6C310.8,1038.6 315.6,1039.1 318.6,1037.9C321.7,1036.7 323.2,1033.1 325.6,1031.3C328.0,1029.5 330.1,1028.0 332.7,1027.1C335.3,1026.1 338.5,1026.1 341.2,1025.6C343.9,1025.1 346.3,1023.4 348.9,1024.2C351.5,1025.0 354.0,1028.0 356.7,1030.6C359.4,1033.2 361.3,1037.4 365.2,1039.8C369.1,1042.2 376.9,1043.6 380.0,1044.7C383.1,1045.8 382.2,1046.4 384.1,1046.6C386.0,1046.8 388.6,1046.6 391.2,1045.9C393.8,1045.2 396.1,1043.2 399.6,1042.4C403.1,1041.6 408.9,1041.6 412.4,1040.9C415.9,1040.2 417.5,1038.4 420.8,1038.4C424.1,1038.4 428.3,1040.8 432.1,1040.7C435.9,1040.6 439.6,1038.4 443.4,1037.7C447.2,1037.0 451.6,1037.5 454.7,1036.7C457.8,1036.0 458.7,1034.1 461.8,1033.2C464.9,1032.3 468.9,1032.4 473.1,1031.1C477.3,1029.8 482.5,1027.5 487.2,1025.4C491.9,1023.3 497.8,1019.7 501.3,1018.4C504.8,1017.1 506.0,1018.3 508.4,1017.4C510.8,1016.5 512.6,1014.0 515.4,1012.7C518.2,1011.4 522.5,1010.4 525.3,1009.6C528.1,1008.8 530.2,1008.6 532.4,1007.8C534.6,1007.0 536.6,1005.3 538.7,1004.9C540.8,1004.5 542.4,1005.0 545.1,1005.6C547.8,1006.2 551.6,1007.2 554.9,1008.5C558.2,1009.8 561.7,1012.2 564.8,1013.4C567.9,1014.6 570.9,1015.4 573.3,1015.8C575.6,1016.1 577.0,1015.4 578.9,1015.5C580.8,1015.6 582.6,1016.3 584.6,1016.2C586.6,1016.1 588.8,1014.5 590.9,1014.8C593.0,1015.1 594.1,1016.8 597.3,1017.9C600.5,1019.0 605.8,1020.5 610.0,1021.6C614.2,1022.7 618.9,1024.0 622.7,1024.7C626.5,1025.4 629.1,1025.5 632.6,1025.8C636.1,1026.1 639.9,1025.8 643.9,1026.4C647.9,1027.0 652.2,1028.3 656.6,1029.2C661.0,1030.1 665.4,1031.7 670.0,1032.0C674.6,1032.3 680.4,1031.8 684.0,1031.3C687.6,1030.8 689.4,1029.1 691.8,1028.9C694.1,1028.7 696.1,1029.9 698.1,1029.9C700.1,1030.0 701.4,1028.9 703.8,1029.2C706.1,1029.5 709.4,1030.9 712.2,1031.7C715.0,1032.5 718.3,1033.9 720.7,1034.1C723.1,1034.3 723.3,1032.6 726.4,1033.1C729.5,1033.6 735.4,1036.3 739.1,1036.9C742.9,1037.5 745.9,1036.4 748.9,1036.9C751.9,1037.5 754.1,1039.4 757.4,1040.2C760.7,1041.0 764.9,1040.7 768.7,1041.6C772.5,1042.5 776.9,1044.6 780.0,1045.4C783.1,1046.2 784.0,1045.5 787.1,1046.4C790.2,1047.4 794.9,1049.8 798.4,1051.1C801.9,1052.4 804.5,1052.8 808.2,1054.3C812.0,1055.8 817.4,1058.9 820.9,1060.2C824.4,1061.5 825.6,1060.8 829.4,1061.9C833.2,1063.0 838.8,1065.2 843.5,1066.6C848.2,1068.0 853.4,1068.9 857.6,1070.1C861.8,1071.3 865.8,1073.2 868.9,1073.6C872.0,1073.9 873.2,1072.3 876.0,1072.2C878.8,1072.1 882.1,1072.4 885.9,1072.7C889.7,1073.0 894.6,1073.1 898.6,1074.1C902.6,1075.1 905.7,1076.7 909.9,1078.6C914.1,1080.5 919.5,1083.6 924.0,1085.6C928.5,1087.6 932.5,1088.9 936.7,1090.6C940.9,1092.2 945.6,1093.5 949.4,1095.5C953.2,1097.5 956.7,1100.6 959.7,1102.8C962.8,1105.0 965.1,1107.0 967.7,1108.8C970.3,1110.5 974.0,1112.5 975.2,1113.3" fill="none" stroke="#fb2600" stroke-width="4.3" stroke-linejoin="round" stroke-linecap="butt" clip-path="url(#clipc)"/>
<polygon points="278.2,884.0 307.4,815.5 337.0,811.9 366.7,799.2 396.3,816.8 431.6,759.0 461.2,783.7 490.9,814.0 520.5,834.5 550.2,815.4 550.2,869.4 520.5,888.5 490.9,868.0 461.2,837.7 431.6,813.0 396.3,870.8 366.7,853.2 337.0,865.9 307.4,869.5 278.2,938.0" fill="#86d3fd" fill-opacity="0.85"/>
<polygon points="691.9,905.9 721.1,884.7 751.2,914.4 780.1,924.9 809.8,951.1 839.4,960.9 869.1,977.2 898.7,980.0 928.2,1007.4 957.6,1021.2 957.6,1073.2 928.2,1059.4 898.7,1032.0 869.1,1029.2 839.4,1012.9 809.8,1003.1 780.1,976.9 751.2,966.4 721.1,936.7 691.9,957.9" fill="#86d3fd" fill-opacity="0.85"/>
<polyline points="278.2,911.0 307.4,842.5 337.0,838.9 366.7,826.2 396.3,843.8 431.6,786.0 461.2,810.7 490.9,841.0 520.5,861.5 550.2,842.4" fill="none" stroke="#1a5cb8" stroke-width="4.2" stroke-linejoin="round" stroke-linecap="butt"/>
<polyline points="691.9,931.9 721.1,910.7 751.2,940.4 780.1,950.9 809.8,977.1 839.4,986.9 869.1,1003.2 898.7,1006.0 928.2,1033.4 957.6,1047.2" fill="none" stroke="#1a5cb8" stroke-width="4.2" stroke-linejoin="round" stroke-linecap="butt"/>
<polyline points="277.5,913.5 307.4,845.0 318.6,844.5 324.3,849.5 329.9,852.6 337.0,854.4 342.6,852.3 348.3,851.2 353.9,845.9 361.0,834.6 366.6,826.6 375.1,828.6 384.3,829.7 390.6,833.9 396.3,839.9 406.2,824.1 414.6,811.4 421.7,802.2 431.6,785.7 437.2,790.2 444.3,799.4 454.2,807.8 462.6,819.8 472.5,832.5 482.4,847.4 490.9,859.4 499.4,869.9 507.8,877.0 514.9,886.2 520.5,890.4 526.2,888.3 533.2,885.8 538.9,885.5 544.5,881.2 550.2,875.6" fill="none" stroke="#000" stroke-width="4.8" stroke-linejoin="round" stroke-linecap="butt"/>
<polyline points="691.9,943.9 703.9,935.4 712.4,926.9 721.1,917.1 727.9,924.8 736.4,930.5 743.4,937.5 750.5,943.2 756.1,942.5 768.8,947.1 780.1,947.4 790.0,953.1 799.9,957.6 809.8,962.9 819.6,961.8 828.1,962.7 836.6,962.2 845.1,963.2 856.4,967.5 864.8,969.3 874.7,972.8 884.6,973.5 897.3,972.5 910.0,978.5 919.9,983.0 928.4,987.2 939.6,987.6 950.9,989.1 957.3,986.9" fill="none" stroke="#000" stroke-width="4.8" stroke-linejoin="round" stroke-linecap="butt"/>
<g stroke="#000" stroke-opacity="0.127" stroke-width="3.0"><line x1="237.5" y1="688.5" x2="237.5" y2="1128.5"/><line x1="385.2" y1="688.5" x2="385.2" y2="1128.5"/><line x1="532.9" y1="688.5" x2="532.9" y2="1128.5"/><line x1="680.7" y1="688.5" x2="680.7" y2="1128.5"/><line x1="828.4" y1="688.5" x2="828.4" y2="1128.5"/><line x1="976.1" y1="688.5" x2="976.1" y2="1128.5"/><line x1="89.5" y1="953.2" x2="977.6" y2="953.2"/><line x1="89.5" y1="865.5" x2="977.6" y2="865.5"/><line x1="89.5" y1="777.7" x2="977.6" y2="777.7"/><line x1="89.5" y1="690.0" x2="977.6" y2="690.0"/></g>
<g stroke="#222222" stroke-width="3.0" fill="none" stroke-linecap="butt">
<path d="M89.1,688.5 V1128.8 H977.6"/>
<line x1="237.5" y1="1128.8" x2="237.5" y2="1118.2"/>
<line x1="385.2" y1="1128.8" x2="385.2" y2="1118.2"/>
<line x1="532.9" y1="1128.8" x2="532.9" y2="1118.2"/>
<line x1="680.7" y1="1128.8" x2="680.7" y2="1118.2"/>
<line x1="828.4" y1="1128.8" x2="828.4" y2="1118.2"/>
<line x1="976.1" y1="1128.8" x2="976.1" y2="1118.2"/>
<line x1="89.1" y1="1041.0" x2="99.7" y2="1041.0"/>
<line x1="89.1" y1="953.2" x2="99.7" y2="953.2"/>
<line x1="89.1" y1="865.5" x2="99.7" y2="865.5"/>
<line x1="89.1" y1="777.7" x2="99.7" y2="777.7"/>
<line x1="89.1" y1="690.0" x2="99.7" y2="690.0"/>
</g>
<g font-size="34.8" fill="#111111" stroke="#fff" stroke-width="0.45">
<text transform="translate(88.3,1163.9) scale(0.975,1)" text-anchor="middle">1950</text>
<text transform="translate(236.0,1163.9) scale(0.975,1)" text-anchor="middle">1975</text>
<text transform="translate(383.7,1163.9) scale(0.975,1)" text-anchor="middle">2000</text>
<text transform="translate(531.4,1163.9) scale(0.975,1)" text-anchor="middle">2025</text>
<text transform="translate(679.2,1163.9) scale(0.975,1)" text-anchor="middle">2050</text>
<text transform="translate(826.9,1163.9) scale(0.975,1)" text-anchor="middle">2075</text>
<text transform="translate(974.6,1163.9) scale(0.975,1)" text-anchor="middle">2100</text>
<text transform="translate(79.9,1138.5) scale(0.975,1)" text-anchor="end">-1</text>
<text transform="translate(79.9,1050.6) scale(0.975,1)" text-anchor="end">0</text>
<text transform="translate(79.9,962.8) scale(0.975,1)" text-anchor="end">1</text>
<text transform="translate(79.9,875.1) scale(0.975,1)" text-anchor="end">2</text>
<text transform="translate(79.9,787.3) scale(0.975,1)" text-anchor="end">3</text>
<text transform="translate(79.9,699.6) scale(0.975,1)" text-anchor="end">4</text>
</g>
<clipPath id="clipc2"><rect x="85" y="1000" width="12" height="60"/></clipPath>
<path d="M89.3,1050.5C89.7,1048.8 90.6,1044.3 91.6,1040.0C92.6,1035.7 93.8,1028.2 95.2,1024.5C96.6,1020.8 98.0,1020.3 99.8,1017.9C101.6,1015.5 104.0,1011.1 106.1,1010.1C108.2,1009.1 111.4,1011.7 112.5,1012.0" fill="none" stroke-opacity="0.4" stroke="#fb2600" stroke-width="4.4" stroke-linejoin="round" stroke-linecap="butt" clip-path="url(#clipc2)"/>
<text x="545.9" y="670.1" font-size="36" fill="#111111" stroke="#fff" stroke-width="0.68" text-anchor="middle" textLength="692.5" lengthAdjust="spacingAndGlyphs">Southern hemisphere sea ice area anomaly</text>
<text x="511" y="1214" font-size="36" fill="#111111" stroke="#fff" stroke-width="0.68" text-anchor="middle">Year</text>
<text transform="translate(27.4,1035) rotate(-90)" x="0" y="0.3" font-size="36" fill="#111111" stroke="#fff" stroke-width="0.68" textLength="171.4" lengthAdjust="spacingAndGlyphs">Million km<tspan dx="1" stroke-width="0.3">²</tspan></text>
<text transform="translate(0.6,643.3) scale(1.05,1)" font-size="52.5" font-weight="bold" fill="#000">c</text>
</g>
<g id="panel-d">
<clipPath id="clipd"><rect x="1203.0" y="699.2" width="887.1999999999998" height="431.29999999999995"/></clipPath>
<line x1="1204.5" y1="1067.4" x2="2088.7" y2="1067.4" stroke="#111" stroke-width="1.3"/>
<path d="M1204.5,1055.3C1204.8,1055.5 1202.9,1055.4 1205.6,1056.0C1208.3,1056.6 1208.1,1056.4 1213.4,1057.4C1218.7,1058.5 1215.2,1058.9 1223.2,1059.5C1231.2,1060.1 1230.0,1062.5 1240.2,1059.5C1250.4,1056.5 1248.6,1053.8 1257.1,1049.6C1265.6,1045.4 1262.0,1047.2 1268.4,1045.4C1274.8,1043.6 1271.5,1042.6 1278.3,1043.6C1285.1,1044.6 1281.2,1047.2 1291.0,1048.7C1300.8,1050.2 1299.4,1048.7 1310.8,1048.7C1322.2,1048.7 1319.0,1049.1 1329.1,1048.7C1339.2,1048.3 1336.1,1049.5 1344.6,1047.5C1353.1,1045.5 1348.1,1045.9 1357.4,1041.9C1366.7,1037.9 1365.1,1037.1 1375.7,1034.1C1386.3,1031.1 1382.4,1030.9 1392.6,1032.0C1402.8,1033.1 1400.3,1038.7 1409.6,1037.9C1418.9,1037.1 1415.2,1033.2 1423.7,1029.2C1432.2,1025.2 1430.2,1025.3 1437.8,1024.7C1445.4,1024.1 1444.0,1026.4 1449.1,1027.1C1454.2,1027.8 1450.6,1029.2 1454.8,1027.1C1459.0,1025.0 1457.3,1024.3 1463.2,1020.0C1469.1,1015.7 1468.1,1016.9 1474.5,1012.9C1480.9,1008.9 1478.2,1008.5 1484.4,1006.6C1490.6,1004.7 1488.4,1005.0 1495.0,1006.6C1501.6,1008.2 1499.2,1009.5 1506.5,1012.0C1513.8,1014.5 1511.2,1015.2 1519.2,1014.8C1527.2,1014.4 1522.3,1013.1 1533.3,1010.6C1544.3,1008.1 1544.9,1010.4 1555.9,1006.4C1566.9,1002.4 1562.8,1000.8 1570.0,997.2C1577.2,993.6 1574.4,995.7 1579.9,994.4C1585.4,993.1 1582.9,995.4 1588.4,992.9C1593.9,990.4 1591.0,988.8 1598.2,985.9C1605.4,983.0 1604.8,983.7 1612.4,983.1C1620.0,982.5 1618.3,983.2 1623.6,983.8C1628.9,984.4 1626.1,983.7 1630.0,985.2C1633.9,986.7 1631.7,986.6 1636.7,988.7C1641.7,990.8 1641.5,991.6 1646.6,992.2C1651.7,992.8 1648.5,993.1 1653.6,990.8C1658.7,988.5 1657.1,988.1 1663.5,984.5C1669.9,980.9 1668.4,980.7 1674.8,978.8C1681.2,976.9 1678.8,977.9 1684.7,978.1C1690.6,978.3 1688.2,978.3 1694.6,979.5C1701.0,980.7 1698.3,981.6 1705.9,982.1C1713.5,982.6 1711.5,982.2 1720.0,981.2C1728.5,980.2 1725.6,979.9 1734.1,978.8C1742.6,977.7 1740.6,979.3 1748.2,977.4C1755.8,975.5 1752.7,975.9 1759.5,972.5C1766.3,969.1 1764.6,969.5 1770.8,966.1C1777.0,962.7 1775.8,962.2 1780.0,961.2C1784.2,960.2 1781.2,961.9 1784.7,962.9C1788.2,963.9 1786.7,962.7 1791.8,964.4C1796.9,966.1 1795.3,967.8 1801.6,968.6C1807.9,969.4 1805.2,970.0 1812.9,967.2C1820.6,964.4 1819.4,963.8 1827.1,959.4C1834.8,955.0 1830.8,956.2 1838.4,952.4C1846.0,948.6 1844.0,948.2 1852.5,946.7C1861.0,945.2 1858.1,949.5 1866.6,947.4C1875.1,945.3 1873.5,943.4 1880.7,939.6C1887.9,935.8 1883.4,937.5 1890.6,934.7C1897.8,931.9 1895.8,932.4 1904.7,930.2C1913.6,928.0 1910.5,928.6 1920.2,927.4C1930.0,926.2 1927.9,928.2 1937.2,926.2C1946.5,924.2 1944.1,924.0 1951.3,920.6C1958.5,917.2 1955.3,919.5 1961.2,914.9C1967.1,910.2 1964.7,909.3 1971.1,905.1C1977.5,900.9 1976.5,902.9 1982.4,900.8C1988.3,898.7 1985.5,899.2 1990.8,898.0C1996.1,896.8 1995.5,897.3 2000.0,896.9C2004.5,896.5 2001.0,898.1 2005.7,896.8C2010.4,895.5 2008.8,895.4 2015.6,892.6C2022.4,889.8 2020.3,890.4 2028.3,887.6C2036.3,884.8 2034.8,886.5 2042.4,883.4C2050.0,880.2 2046.9,880.5 2053.7,877.1C2060.5,873.7 2058.2,875.7 2065.0,872.1C2071.8,868.5 2069.2,869.5 2076.3,865.1C2083.4,860.7 2085.0,859.6 2088.7,857.3L2088.7,906.7C2083.7,907.1 2081.3,906.8 2072.1,908.1C2062.9,909.4 2066.0,909.6 2057.9,910.9C2049.8,912.2 2052.4,910.5 2045.2,912.4C2038.0,914.3 2040.7,913.7 2033.9,917.3C2027.1,920.9 2030.2,919.3 2022.6,924.4C2015.0,929.5 2015.3,929.6 2008.5,934.2C2001.7,938.8 2005.3,936.9 2000.0,939.6C1994.7,942.3 1997.0,941.3 1990.8,943.2C1984.6,945.1 1986.3,944.4 1979.5,946.0C1972.7,947.6 1974.5,946.0 1968.2,948.5C1961.9,951.0 1964.3,951.0 1958.4,954.5C1952.5,958.0 1954.9,957.6 1948.5,960.1C1942.1,962.6 1943.6,962.1 1937.2,962.9C1930.8,963.7 1933.7,961.8 1927.3,962.9C1920.9,964.0 1923.2,964.0 1916.0,966.5C1908.8,969.0 1911.8,968.2 1903.3,971.4C1894.8,974.6 1895.8,974.6 1887.8,977.1C1879.8,979.6 1883.3,977.3 1876.5,979.6C1869.7,981.9 1872.4,980.7 1865.2,984.8C1858.0,988.9 1859.7,989.5 1852.5,993.3C1845.3,997.1 1851.0,995.4 1841.2,997.5C1831.5,999.6 1831.9,998.5 1820.0,1000.4C1808.1,1002.3 1811.3,1002.5 1801.6,1003.9C1791.8,1005.3 1794.0,1003.8 1787.5,1005.0C1781.0,1006.2 1785.0,1006.7 1780.0,1008.0C1775.0,1009.3 1776.1,1008.0 1770.8,1009.2C1765.5,1010.4 1768.3,1008.6 1762.4,1012.0C1756.5,1015.4 1758.3,1016.3 1751.1,1020.5C1743.9,1024.7 1745.6,1023.6 1738.4,1026.1C1731.2,1028.6 1734.8,1027.9 1727.1,1028.7C1719.4,1029.5 1721.4,1028.9 1712.9,1028.7C1704.4,1028.5 1707.7,1028.5 1698.8,1028.2C1689.9,1027.9 1690.9,1027.4 1683.3,1027.8C1675.7,1028.2 1680.2,1029.5 1673.4,1029.6C1666.6,1029.7 1668.7,1027.8 1660.7,1028.2C1652.7,1028.7 1653.8,1029.0 1646.6,1031.1C1639.4,1033.2 1642.2,1033.2 1636.7,1035.3C1631.2,1037.4 1635.0,1036.9 1628.2,1038.1C1621.4,1039.3 1622.6,1038.8 1614.1,1039.2C1605.6,1039.6 1608.9,1039.4 1600.0,1039.5C1591.1,1039.6 1593.4,1037.4 1584.5,1039.5C1575.6,1041.6 1578.0,1043.4 1570.4,1046.6C1562.8,1049.8 1566.8,1048.7 1559.1,1050.1C1551.4,1051.5 1551.7,1049.9 1544.9,1051.2C1538.1,1052.5 1541.2,1053.0 1536.5,1054.4C1531.8,1055.8 1535.8,1055.6 1529.4,1055.8C1523.0,1056.0 1523.8,1055.5 1515.3,1055.1C1506.8,1054.7 1507.3,1054.1 1501.2,1054.4C1495.1,1054.7 1500.0,1054.9 1495.0,1056.0C1490.0,1057.1 1493.9,1056.6 1484.4,1058.1C1474.9,1059.6 1473.8,1059.0 1463.2,1060.9C1452.6,1062.8 1457.6,1061.7 1449.1,1064.5C1440.6,1067.3 1441.8,1067.6 1435.0,1070.1C1428.2,1072.6 1434.1,1072.1 1426.5,1072.9C1418.9,1073.7 1418.9,1072.9 1409.6,1072.7C1400.3,1072.5 1401.9,1071.9 1395.5,1072.2C1389.1,1072.5 1396.9,1073.0 1388.4,1073.6C1379.9,1074.2 1376.5,1074.5 1367.2,1074.1C1357.9,1073.7 1362.5,1072.2 1357.4,1072.2C1352.3,1072.2 1355.8,1071.3 1350.3,1074.1C1344.8,1076.9 1345.4,1078.0 1339.0,1081.4C1332.6,1084.8 1337.6,1084.8 1329.1,1085.4C1320.6,1086.0 1320.5,1084.4 1310.8,1083.5C1301.0,1082.6 1304.2,1082.2 1296.6,1082.5C1289.0,1082.8 1293.4,1084.7 1285.4,1084.5C1277.4,1084.3 1278.7,1080.1 1269.8,1081.7C1260.9,1083.3 1264.2,1086.8 1255.7,1089.9C1247.2,1093.0 1249.2,1090.7 1241.6,1092.0C1234.0,1093.3 1237.1,1093.7 1230.3,1094.1C1223.5,1094.5 1226.4,1092.6 1219.0,1093.4C1211.6,1094.2 1209.9,1095.7 1205.6,1096.7C1201.2,1097.8 1204.8,1096.8 1204.5,1096.9Z" fill="#febf3c" fill-opacity="0.8" clip-path="url(#clipd)"/>
<path d="M1204.5,1077.6C1207.6,1077.0 1217.0,1075.2 1223.2,1074.1C1229.4,1073.0 1235.7,1071.8 1241.6,1070.8C1247.5,1069.8 1252.2,1069.4 1258.5,1068.4C1264.8,1067.4 1271.9,1065.9 1279.7,1064.8C1287.5,1063.7 1296.9,1062.6 1305.1,1061.9C1313.3,1061.2 1321.3,1061.3 1329.1,1060.9C1336.9,1060.5 1343.9,1060.5 1351.7,1059.5C1359.5,1058.5 1368.9,1056.0 1375.7,1054.9C1382.5,1053.9 1386.9,1053.6 1392.6,1053.2C1398.2,1052.8 1402.1,1053.2 1409.6,1052.5C1417.1,1051.8 1430.0,1050.4 1437.8,1049.2C1445.6,1048.0 1449.6,1046.7 1456.2,1045.4C1462.8,1044.1 1470.9,1042.2 1477.4,1041.2C1483.9,1040.2 1488.7,1039.8 1495.0,1039.1C1501.3,1038.3 1508.4,1037.7 1515.3,1036.7C1522.2,1035.7 1529.5,1034.1 1536.5,1032.9C1543.5,1031.7 1550.5,1031.0 1557.6,1029.6C1564.6,1028.2 1572.4,1026.1 1578.8,1024.7C1585.2,1023.3 1589.9,1022.1 1595.8,1021.2C1601.7,1020.3 1608.0,1019.7 1614.1,1019.1C1620.2,1018.5 1625.4,1018.6 1632.5,1017.6C1639.6,1016.6 1649.0,1014.7 1656.5,1013.4C1664.0,1012.1 1670.5,1011.1 1677.6,1009.9C1684.6,1008.7 1691.7,1007.8 1698.8,1006.4C1705.9,1005.0 1712.9,1003.3 1720.0,1001.8C1727.1,1000.3 1734.1,998.7 1741.2,997.2C1748.3,995.7 1755.9,994.2 1762.4,992.9C1768.9,991.6 1774.4,990.5 1780.0,989.4C1785.6,988.3 1790.0,987.5 1796.0,986.2C1802.0,984.9 1809.2,983.5 1815.8,981.6C1822.4,979.7 1828.9,977.1 1835.5,974.9C1842.1,972.7 1848.5,970.6 1855.3,968.3C1862.1,966.0 1868.5,963.7 1876.5,961.2C1884.5,958.7 1895.1,955.6 1903.3,953.3C1911.5,951.0 1919.8,949.1 1925.9,947.4C1932.0,945.7 1935.3,944.8 1940.0,943.2C1944.7,941.6 1949.4,939.9 1954.1,937.8C1958.8,935.7 1963.5,933.0 1968.2,930.8C1972.9,928.6 1977.1,926.9 1982.4,924.5C1987.7,922.1 1994.5,919.1 2000.0,916.6C2005.5,914.1 2009.9,911.9 2015.6,909.5C2021.2,907.1 2028.0,904.9 2033.9,902.5C2039.8,900.1 2045.2,897.6 2050.9,895.4C2056.6,893.2 2063.1,890.8 2067.8,889.1C2072.5,887.5 2075.6,886.5 2079.1,885.5C2082.6,884.5 2087.1,883.8 2088.7,883.4" fill="none" stroke="#fb2600" stroke-width="4.2" stroke-linejoin="round" stroke-linecap="butt" clip-path="url(#clipd)"/>
<polygon points="1223.2,1020.0 1258.5,1006.6 1293.8,996.0 1330.5,979.8 1369.5,962.6 1414.0,942.8 1451.4,944.9 1488.1,936.5 1524.8,926.9 1561.5,920.9 1561.5,923.2 1524.8,929.4 1488.1,940.0 1471.2,950.6 1451.4,964.4 1414.0,958.4 1369.5,968.9 1330.5,993.9 1293.8,1013.6 1258.5,1023.5 1223.2,1058.8" fill="#86d3fd" fill-opacity="0.85"/>
<polygon points="1738.8,946.0 1775.5,888.1 1811.5,863.4 1848.7,822.7 1884.7,808.3 1921.4,786.7 1958.1,770.8 1996.2,756.4 2032.9,738.0 2070.4,722.8 2070.4,732.4 2032.9,753.8 1996.2,765.5 1958.1,780.4 1921.4,799.0 1884.7,817.8 1848.7,838.2 1811.5,874.0 1775.5,894.5 1738.8,961.5" fill="#86d3fd" fill-opacity="0.85"/>
<polyline points="1223.2,1044.0 1258.5,1013.4 1293.8,1002.4 1330.5,984.7 1369.5,965.4 1414.0,953.4 1451.4,956.0 1488.1,937.9 1524.8,928.0 1561.5,922.1" fill="none" stroke="#1a5cb8" stroke-width="4.2" stroke-linejoin="round" stroke-linecap="butt"/>
<polyline points="1738.8,949.5 1775.5,890.9 1811.5,866.2 1848.7,834.0 1884.7,814.0 1921.4,793.1 1958.1,775.4 1996.2,759.2 2032.9,743.4 2070.4,728.4" fill="none" stroke="#1a5cb8" stroke-width="4.2" stroke-linejoin="round" stroke-linecap="butt"/>
<polyline points="1219.0,1034.1 1255.7,1009.4 1274.1,1008.0 1293.8,1005.9 1312.2,998.1 1330.5,989.6 1350.3,980.5 1366.5,974.1 1389.3,971.5 1410.5,967.8 1428.8,970.4 1447.2,973.9 1465.5,968.2 1483.9,963.6 1502.2,960.8 1520.6,958.8 1541.8,958.4 1558.0,959.1" fill="none" stroke="#000" stroke-width="4.8" stroke-linejoin="round" stroke-linecap="butt"/>
<polyline points="1735.3,1015.2 1753.6,989.1 1772.0,964.4 1790.4,955.2 1808.7,944.6 1827.1,934.7 1845.4,926.2 1865.2,922.0 1883.5,917.8 1903.3,913.5 1921.6,908.2 1940.0,903.6 1956.9,901.5 1975.3,903.4 1987.4,903.9 2008.5,903.5 2029.7,902.5 2043.8,902.0 2066.4,902.5" fill="none" stroke="#000" stroke-width="4.8" stroke-linejoin="round" stroke-linecap="butt"/>
<g stroke="#000" stroke-opacity="0.127" stroke-width="3.0"><line x1="1352.3" y1="700.2" x2="1352.3" y2="1128.5"/><line x1="1536.5" y1="700.2" x2="1536.5" y2="1128.5"/><line x1="1720.7" y1="700.2" x2="1720.7" y2="1128.5"/><line x1="1904.9" y1="700.2" x2="1904.9" y2="1128.5"/><line x1="2089.1" y1="700.2" x2="2089.1" y2="1128.5"/><line x1="1204.5" y1="1006.9" x2="2090.6" y2="1006.9"/><line x1="1204.5" y1="945.8" x2="2090.6" y2="945.8"/><line x1="1204.5" y1="884.8" x2="2090.6" y2="884.8"/><line x1="1204.5" y1="823.7" x2="2090.6" y2="823.7"/><line x1="1204.5" y1="762.7" x2="2090.6" y2="762.7"/><line x1="1204.5" y1="701.7" x2="2090.6" y2="701.7"/></g>
<g stroke="#222222" stroke-width="3.0" fill="none" stroke-linecap="butt">
<path d="M1204.1,700.2 V1128.8 H2090.6"/>
<line x1="1352.3" y1="1128.8" x2="1352.3" y2="1118.2"/>
<line x1="1536.5" y1="1128.8" x2="1536.5" y2="1118.2"/>
<line x1="1720.7" y1="1128.8" x2="1720.7" y2="1118.2"/>
<line x1="1904.9" y1="1128.8" x2="1904.9" y2="1118.2"/>
<line x1="2089.1" y1="1128.8" x2="2089.1" y2="1118.2"/>
<line x1="1204.1" y1="1067.9" x2="1214.7" y2="1067.9"/>
<line x1="1204.1" y1="1006.9" x2="1214.7" y2="1006.9"/>
<line x1="1204.1" y1="945.8" x2="1214.7" y2="945.8"/>
<line x1="1204.1" y1="884.8" x2="1214.7" y2="884.8"/>
<line x1="1204.1" y1="823.7" x2="1214.7" y2="823.7"/>
<line x1="1204.1" y1="762.7" x2="1214.7" y2="762.7"/>
<line x1="1204.1" y1="701.7" x2="1214.7" y2="701.7"/>
</g>
<g font-size="34.8" fill="#111111" stroke="#fff" stroke-width="0.45">
<text transform="translate(1350.7,1163.9) scale(0.975,1)" text-anchor="middle">2000</text>
<text transform="translate(1534.9,1163.9) scale(0.975,1)" text-anchor="middle">2025</text>
<text transform="translate(1719.1,1163.9) scale(0.975,1)" text-anchor="middle">2050</text>
<text transform="translate(1903.3,1163.9) scale(0.975,1)" text-anchor="middle">2075</text>
<text transform="translate(2087.5,1163.9) scale(0.975,1)" text-anchor="middle">2100</text>
<text transform="translate(1194.4,1138.5) scale(0.975,1)" text-anchor="end">-0.2</text>
<text transform="translate(1194.4,1077.4) scale(0.975,1)" text-anchor="end">0</text>
<text transform="translate(1194.4,1016.4) scale(0.975,1)" text-anchor="end">0.2</text>
<text transform="translate(1194.4,955.3) scale(0.975,1)" text-anchor="end">0.4</text>
<text transform="translate(1194.4,894.3) scale(0.975,1)" text-anchor="end">0.6</text>
<text transform="translate(1194.4,833.2) scale(0.975,1)" text-anchor="end">0.8</text>
<text transform="translate(1194.4,772.2) scale(0.975,1)" text-anchor="end">1</text>
<text transform="translate(1194.4,711.2) scale(0.975,1)" text-anchor="end">1.2</text>
</g>
<text x="1657.2" y="675.3" font-size="36" fill="#111111" stroke="#fff" stroke-width="0.68" text-anchor="middle" textLength="787.5" lengthAdjust="spacingAndGlyphs">Antarctic coastal temperature anomaly 400-700m</text>
<text x="1655.2" y="1214" font-size="36" fill="#111111" stroke="#fff" stroke-width="0.68" text-anchor="middle">Year</text>
<text transform="translate(1119.9,946) rotate(-90) translate(-2.05,0.6) scale(0.87,1)" fill="#111111" stroke="#fff" stroke-width="0.68" font-size="40"><tspan font-size="47" dx="-0.6" dy="9.6" stroke-width="0.55">°</tspan><tspan dx="-0.4" dy="-9.6">C</tspan></text>
<text transform="translate(1093.2,642.4) scale(1.08,1)" font-size="50.5" font-weight="bold" fill="#000">d</text>
</g>
</svg></body></html>
